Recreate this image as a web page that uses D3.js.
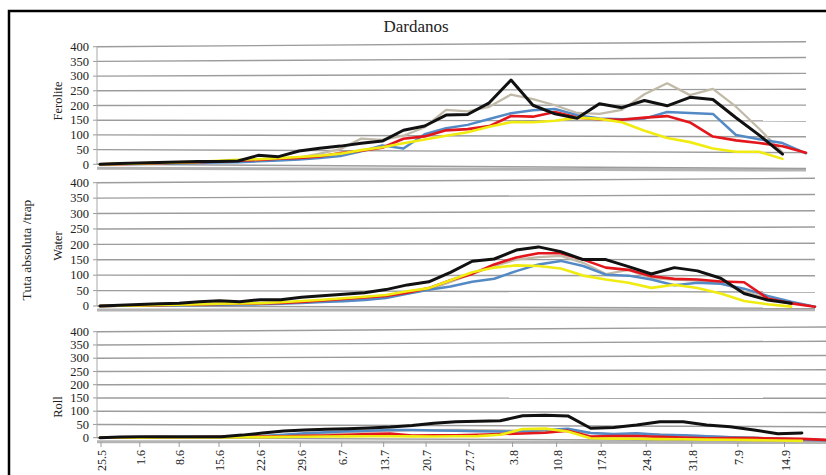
<!DOCTYPE html>
<html>
<head>
<meta charset="utf-8">
<script src="https://cdn.jsdelivr.net/npm/d3@7"></script>
<style>
  body { margin: 0; background: #fff; }
  text { font-family: "Liberation Serif", "Times New Roman", serif; fill: #222; }
</style>
</head>
<body>
<svg id="chart" width="826" height="475"></svg>
<script>
// Weekly date labels on the category axis (two samples per week)
const dateLabels = ["25.5","1.6","8.6","15.6","22.6","29.6","6.7","13.7","20.7","27.7",
                    "3.8","10.8","17.8","24.8","31.8","7.9","14.9"];
const samplesPerWeek = 2;
const sampleCount = 34;
const panelNames = ["Ferolite", "Water", "Roll"];
const yTicks = [0, 50, 100, 150, 200, 250, 300, 350, 400];

// Ferolite traps: moths per trap, one array per trap
const feroliteBlack  = [0,3,5,7,9,11,12,14,33,29,48,58,65,75,82,118,132,168,170,208,282,200,172,158,205,192,215,198,225,218,160,105,45,null];
const feroliteGray   = [0,2,4,6,8,10,11,13,18,22,26,40,55,90,86,100,128,185,180,195,235,220,200,175,172,185,235,270,232,252,195,125,50,null];
const feroliteBlue   = [0,1,2,4,5,6,8,10,13,16,20,25,32,48,68,58,105,125,136,155,174,184,188,168,157,155,157,178,175,172,105,92,80,48];
const feroliteRed    = [0,1,3,5,7,9,12,15,18,22,25,30,42,50,60,90,98,118,122,132,165,163,178,160,155,153,160,165,145,100,88,80,70,50];
const feroliteYellow = [0,2,4,6,8,10,14,18,20,24,28,33,40,52,62,75,88,100,112,130,145,145,150,160,156,145,118,95,82,62,52,52,30,null];

// Water traps
const waterBlack  = [0,3,5,8,10,15,18,15,22,22,30,35,40,45,55,70,80,110,145,152,180,190,175,150,150,128,105,125,115,92,45,25,15,null];
const waterGray   = [0,1,2,3,4,5,6,7,9,11,14,18,22,27,34,44,55,80,105,130,150,158,162,140,105,118,92,88,85,78,52,30,15,null];
const waterBlue   = [0,1,1,2,3,4,5,6,7,9,12,15,18,22,28,42,55,65,80,90,114,135,146,130,103,100,88,70,78,75,60,38,20,5];
const waterRed    = [0,1,2,3,5,6,8,9,10,12,15,20,25,30,35,45,60,85,105,135,157,170,170,150,125,118,98,90,88,82,80,30,15,5];
const waterYellow = [0,1,2,4,5,7,9,10,11,14,18,22,27,32,38,50,60,85,110,125,132,130,122,100,88,78,62,72,62,45,22,12,5,null];

// Roll traps
const rollBlack  = [0,3,4,5,5,5,6,12,20,28,32,35,37,40,44,50,58,64,66,68,86,88,86,42,45,54,66,66,55,49,38,25,28,null];
const rollGray   = [0,1,2,2,3,3,4,6,8,12,16,20,24,28,30,32,33,34,34,33,32,30,32,25,20,22,20,18,15,12,10,8,6,3];
const rollBlue   = [0,1,2,2,3,3,4,6,9,14,20,24,28,30,33,33,32,31,30,29,30,35,40,25,22,25,20,18,15,12,10,7,5,3];
const rollRed    = [0,1,2,3,3,4,5,6,7,8,10,12,15,18,20,13,14,15,17,20,22,25,33,12,14,15,12,10,8,9,9,8,7,4];
const rollYellow = [0,1,1,2,2,3,3,4,5,6,7,8,9,10,10,10,10,11,12,17,38,40,30,6,5,5,4,4,3,3,2,1,0,null];

const panelSeries = [
  [feroliteGray, feroliteBlue, feroliteRed, feroliteYellow, feroliteBlack],
  [waterGray, waterBlue, waterRed, waterYellow, waterBlack],
  [rollGray, rollBlue, rollRed, rollYellow, rollBlack]
];

// Drawing styles, in draw order (gray underneath, black on top)
const seriesStyle = [
  { color: "#c2baa9", width: 2.3 },
  { color: "#5389c4", width: 2.5 },
  { color: "#e3161c", width: 2.6 },
  { color: "#f0ec12", width: 2.6 },
  { color: "#111111", width: 3.0 }
];

// Panel frames: the chart is drawn in slight perspective, so the value axis
// is a little taller at the right-hand end than at the left.
const panelFrames = [
  { left: [164.3, 46.7], right: [168.5, 41.7], xEnd: 806, labelY: 101 },
  { left: [306.0, 182.7], right: [308.3, 178.3], xEnd: 815, labelY: 246 },
  { left: [437.7, 331.7], right: [441.0, 327.0], xEnd: 826, labelY: 407 }
];
const x0 = 100, axisX = 97;

const svg = d3.select("#chart");

// outer frame
svg.append("rect")
  .attr("x", 9).attr("y", 11).attr("width", 840).attr("height", 500)
  .attr("fill", "#fff").attr("stroke", "#000").attr("stroke-width", 2.5);

svg.append("text")
  .attr("x", 416).attr("y", 32).attr("text-anchor", "middle")
  .attr("font-size", 17).text("Dardanos");

svg.append("text")
  .attr("transform", "translate(31,250) rotate(-90)")
  .attr("text-anchor", "middle").attr("font-size", 13.5)
  .text("Tuta absoluta /trap");

// depth foreshortening along the category axis
const depth = t => 0.9 * t + 0.1 * t * t;
const sampleIndex = d3.scaleLinear().domain([0, sampleCount - 1]).range([0, 1]);

panelFrames.forEach((pf, p) => {
  const g = svg.append("g");
  const xPos = i => x0 + (pf.xEnd - x0) * depth(sampleIndex(i));
  const yLeft = d3.scaleLinear().domain([0, 400]).range(pf.left);
  const yRight = d3.scaleLinear().domain([0, 400]).range(pf.right);
  const along = d3.scaleLinear().domain([x0, pf.xEnd]).range([0, 1]);
  const yAt = (v, px) => d3.interpolateNumber(yLeft(v), yRight(v))(along(px));

  // floor edge under the zero line
  g.append("line")
    .attr("x1", axisX).attr("y1", yAt(0, axisX) + 4)
    .attr("x2", pf.xEnd).attr("y2", yAt(0, pf.xEnd) + 1.5)
    .attr("stroke", "#b4b4b4").attr("stroke-width", 3);

  // gridlines and value ticks
  yTicks.forEach(v => {
    g.append("line")
      .attr("x1", axisX).attr("y1", yAt(v, axisX))
      .attr("x2", pf.xEnd).attr("y2", yAt(v, pf.xEnd))
      .attr("stroke", "#9c9c9c").attr("stroke-width", 1.4);
    g.append("line")
      .attr("x1", axisX - 4).attr("x2", axisX)
      .attr("y1", yAt(v, axisX)).attr("y2", yAt(v, axisX))
      .attr("stroke", "#9c9c9c").attr("stroke-width", 1);
    g.append("text")
      .attr("x", 89).attr("y", yAt(v, axisX)).attr("dy", "0.34em")
      .attr("text-anchor", "end").attr("font-size", 12.5)
      .text(v);
  });
  g.append("line")
    .attr("x1", axisX).attr("x2", axisX)
    .attr("y1", yAt(400, axisX)).attr("y2", yAt(0, axisX))
    .attr("stroke", "#a8a8a8").attr("stroke-width", 1);

  g.append("text")
    .attr("transform", `translate(62,${pf.labelY}) rotate(-90)`)
    .attr("text-anchor", "middle").attr("font-size", 12.5)
    .text(panelNames[p]);

  const line = d3.line()
    .defined(d => d.v != null)
    .x(d => xPos(d.i))
    .y(d => yAt(d.v, xPos(d.i)));

  panelSeries[p].forEach((vals, s) => {
    const pts = vals.map((v, i) => ({ i, v }));
    g.append("path")
      .attr("d", line(pts))
      .attr("fill", "none")
      .attr("stroke", seriesStyle[s].color)
      .attr("stroke-width", seriesStyle[s].width)
      .attr("stroke-linejoin", "round")
      .attr("stroke-linecap", "round");
  });
});

// category axis labels under the bottom panel
const labelX = i => 101 + (808 - 101) * depth(sampleIndex(i));
dateLabels.forEach((lab, k) => {
  const i = k * samplesPerWeek;
  const lx = labelX(i);
  svg.append("line")
    .attr("x1", lx).attr("x2", lx).attr("y1", 442).attr("y2", 447)
    .attr("stroke", "#9c9c9c").attr("stroke-width", 1);
  svg.append("text")
    .attr("transform", `translate(${lx + 1},450) rotate(-90)`)
    .attr("dy", "0.35em").attr("text-anchor", "end")
    .attr("font-size", 12)
    .text(lab);
});
</script>
</body>
</html>
